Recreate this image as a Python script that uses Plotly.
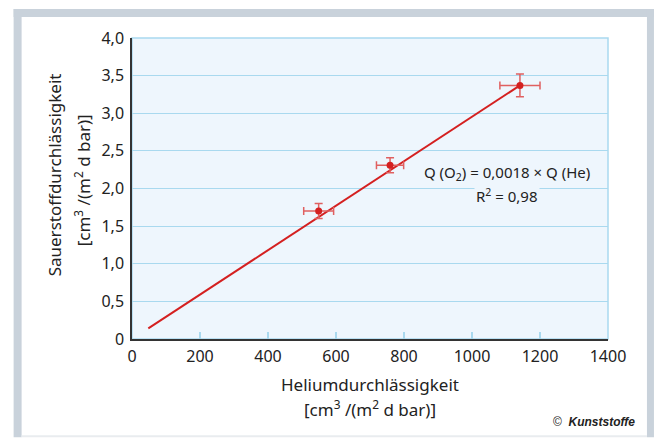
import plotly.graph_objects as go

# Data
he_perm = [549, 759, 1141]          # Heliumdurchlässigkeit
o2_perm = [1.70, 2.31, 3.37]        # Sauerstoffdurchlässigkeit
he_err = [44, 40, 59]
o2_err = [0.10, 0.10, 0.15]
fit_x = [48, 1141]
fit_y = [0.14, 3.37]

x_ticks = [0, 200, 400, 600, 800, 1000, 1200, 1400]
x_ticklabels = ["0", "200", "400", "600", "800", "1000", "1200", "1400"]
y_ticks = [0, 0.5, 1.0, 1.5, 2.0, 2.5, 3.0, 3.5, 4.0]
y_ticklabels = ["0", "0,5", "1,0", "1,5", "2,0", "2,5", "3,0", "3,5", "4,0"]

W, H = 654, 438
L, R, T, B = 131.5, 46, 38, 98.5
PW, PH = W - L - R, H - T - B

def px(x):
    return (x - L) / PW

def py(y):
    return (H - B - y) / PH

FONT = "Noto Sans"
RED = "#D42020"
GRID = "#A9D9EF"
BG = "#EEF6FD"
FRAME = "#C9D2DB"

fig = go.Figure()
fig.add_trace(go.Scatter(x=fit_x, y=fit_y, mode="lines",
                         line=dict(color=RED, width=2), hoverinfo="skip"))
fig.add_trace(go.Scatter(
    x=he_perm, y=o2_perm, mode="markers",
    marker=dict(color=RED, size=7),
    error_x=dict(type="data", array=he_err, color="#E06060", thickness=1.5, width=4),
    error_y=dict(type="data", array=o2_err, color="#E06060", thickness=1.5, width=4),
))

shapes = [
    dict(type="rect", xref="paper", yref="paper", x0=0, x1=1, y0=0, y1=1,
         line=dict(color=GRID, width=1.5), layer="below"),
    dict(type="rect", xref="paper", yref="paper", x0=px(13), x1=px(21), y0=py(438), y1=py(9),
         fillcolor=FRAME, line=dict(width=0)),
    dict(type="rect", xref="paper", yref="paper", x0=px(13), x1=px(654), y0=py(17), y1=py(9),
         fillcolor=FRAME, line=dict(width=0)),
    dict(type="rect", xref="paper", yref="paper", x0=px(647), x1=px(654), y0=py(438), y1=py(9),
         fillcolor=FRAME, line=dict(width=0)),
    dict(type="rect", xref="paper", yref="paper", x0=px(21), x1=px(647), y0=py(438), y1=py(436),
         fillcolor="#E9ECEF", line=dict(width=0)),
]

def ann(text, x, y, size=15, **kw):
    d = dict(text=text, xref="paper", yref="paper", x=px(x), y=py(y), showarrow=False,
             xanchor="center", yanchor="middle",
             font=dict(family=FONT, size=size, color="#222"))
    d.update(kw)
    return d

annotations = [
    ann("Q (O<sub>2</sub>) = 0,0018 × Q (He)", 507, 173),
    ann("R<sup>2</sup> = 0,98", 507, 196, bgcolor=BG),
    ann("Sauerstoffdurchlässigkeit", 54, 175, size=17, textangle=-90),
    ann("[cm<sup>3</sup> /(m<sup>2</sup> d bar)]", 82, 181, size=17, textangle=-90),
    ann("Heliumdurchlässigkeit", 370, 385, size=17),
    ann("[cm<sup>3</sup> /(m<sup>2</sup> d bar)]", 370, 409, size=17),
    dict(text="©  <b><i>Kunststoffe</i></b>", xref="paper", yref="paper",
         x=px(637), y=py(423), xanchor="right", yanchor="middle", showarrow=False,
         font=dict(family="Liberation Sans", size=12, color="#222")),
]

fig.update_layout(
    width=W, height=H, margin=dict(l=L, r=R, t=T, b=B),
    paper_bgcolor="white", plot_bgcolor=BG, showlegend=False,
    shapes=shapes, annotations=annotations,
    font=dict(family=FONT, size=16, color="#222"),
    xaxis=dict(range=[0, 1400], tickvals=x_ticks, ticktext=x_ticklabels,
               showgrid=False, zeroline=False, showline=True, linecolor="#333", linewidth=1.5,
               ticks="inside", ticklen=7, tickcolor=GRID, tickwidth=1.5,
               ticklabelstandoff=2, tickfont=dict(family=FONT, size=16)),
    yaxis=dict(range=[0, 4.0], tickvals=y_ticks, ticktext=y_ticklabels,
               showgrid=True, gridcolor=GRID, gridwidth=1.2, zeroline=False,
               showline=True, linecolor="#333", linewidth=1.5, ticks="",
               ticklabelstandoff=3, tickfont=dict(family=FONT, size=16)),
)

fig.write_html("out.html")
